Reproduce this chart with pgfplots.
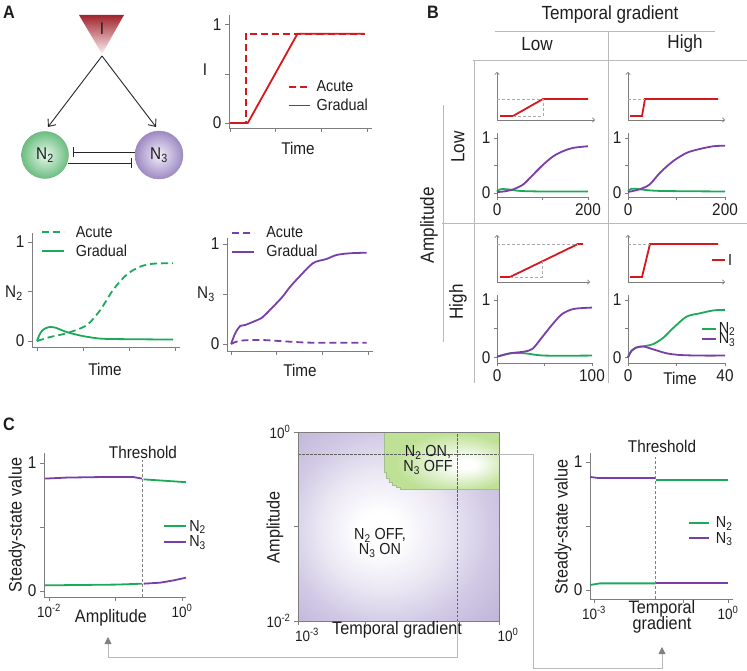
\documentclass[border=0pt]{standalone}
\usepackage{fontspec}
\setmainfont{Liberation Sans}[FakeStretch=0.9]
\usepackage{pgfplots}
\pgfplotsset{compat=1.18}
\usetikzlibrary{arrows.meta}

\definecolor{cred}{RGB}{214,24,30}
\definecolor{cgreen}{RGB}{28,170,88}
\definecolor{cpurple}{RGB}{122,62,168}
\definecolor{axgray}{RGB}{125,125,125}
\definecolor{linegray}{RGB}{185,185,185}
\definecolor{guidegray}{RGB}{170,170,170}
\definecolor{bgpurple}{RGB}{188,178,214}
\definecolor{midpurple}{RGB}{208,200,228}
\definecolor{bggreen}{RGB}{190,225,150}
\definecolor{edgegreen}{RGB}{165,190,145}
\definecolor{txt}{RGB}{30,30,30}

\newcommand{\fs}[1]{\fontsize{#1}{#1}\selectfont}
\newcommand{\Nt}{N\textsubscript{2}}
\newcommand{\Nh}{N\textsubscript{3}}

% the path's bounding box maps onto the square -25bp..25bp of a shading
\pgfdeclareradialshading{purplebg}{\pgfpoint{-5.5bp}{-1.5bp}}%
  {color(0bp)=(white); color(5bp)=(white); color(16bp)=(white!55!midpurple); color(26bp)=(midpurple); color(38bp)=(bgpurple); color(50bp)=(bgpurple)}
\pgfdeclareradialshading{greenbg}{\pgfpoint{12bp}{-4bp}}%
  {color(0bp)=(white); color(4bp)=(white); color(14bp)=(white!55!bggreen); color(26bp)=(bggreen); color(50bp)=(bggreen)}

\pgfplotsset{
  base/.style={scale only axis, axis lines=left, clip=false,
    axis line style={-, draw=axgray, line width=0.8pt},
    tick style={draw=axgray, line width=0.8pt}, major tick length=4pt,
    tick align=outside,
    ticklabel style={font=\fs{17}, text=txt},
    every axis plot/.append style={line width=1.8pt}},
  lgd/.style={legend cell align=left,
    legend style={draw=none, fill=none, inner sep=0pt, anchor=north west,
      font=\fs{16}, text=txt, row sep=#1, nodes={inner sep=2pt}}},
  lgimg/.style={legend image code/.code={\draw[line width=1.8pt, ##1] (0pt,0pt) -- (#1,0pt);}},
  lgap/.style={legend style={/tikz/every odd column/.append style={column sep=#1}}},
  inp/.style={scale only axis, axis lines=left, clip=false,
    axis line style={-{To[length=3pt,width=5pt]}, draw=axgray, line width=0.6pt},
    xtick=\empty, ytick=\empty, xmin=0, ymin=0,
    every axis plot/.append style={line width=1.8pt}},
  guide/.style={forget plot, densely dashed, guidegray, line width=0.5pt},
  outp/.style={base, major tick length=3pt, ticklabel style={font=\fs{17}},
    ytick={0,0.5,1}, yticklabels={0,,1},
    every axis plot/.append style={line width=1.8pt, smooth}},
}

\begin{document}
\begin{tikzpicture}
\path[use as bounding box] (0,0) rectangle (747pt,670pt);

% ---------------- Panel A: input I
\begin{axis}[base, at={(229pt,542pt)}, anchor=south west, width=143pt, height=113pt,
  xmin=-0.02, xmax=3.11, ymin=-0.05, ymax=1.10,
  xtick={0,1,2,3}, xticklabels={,,,}, ytick={0,0.5,1}, yticklabels={0,,1},
  lgd=2pt, lgimg=21pt, lgap=4pt, legend style={at={(0.41,0.44)}}]
\addplot[cred, dash pattern=on 7pt off 4pt] coordinates {(0,0) (0.35,0) (0.35,0.91) (2.95,0.91)};
\addplot[cred] coordinates {(0,0) (0.39,0) (1.48,0.91) (2.95,0.91)};
\legend{Acute, Gradual}
\end{axis}

% ---------------- Panel A: N2
\begin{axis}[base, at={(32pt,323pt)}, anchor=south west, width=148pt, height=114pt,
  xmin=-0.11, xmax=3.11, ymin=-0.06, ymax=1.09,
  xtick={0,1,2,3}, xticklabels={,,,}, ytick={0,0.5,1}, yticklabels={0,,1},
  lgd=2pt, lgimg=22pt, lgap=9pt, legend style={at={(0.06,1.08)}}]
\addplot[cgreen, smooth, dash pattern=on 7pt off 4pt] coordinates {(0,0) (0.28,0.04) (0.65,0.08) (1.08,0.16) (1.37,0.31) (1.66,0.52) (1.95,0.67) (2.24,0.75) (2.53,0.78) (2.96,0.785)};
\addplot[cgreen, smooth] coordinates {(0,0) (0.05,0.06) (0.12,0.11) (0.25,0.14) (0.4,0.135) (0.65,0.09) (1.0,0.05) (1.37,0.025) (1.73,0.02) (2.96,0.015)};
\legend{Acute, Gradual}
\end{axis}

% ---------------- Panel A: N3
\begin{axis}[base, at={(227pt,319pt)}, anchor=south west, width=146pt, height=113pt,
  xmin=-0.09, xmax=3.11, ymin=-0.07, ymax=1.06,
  xtick={0,1,2,3}, xticklabels={,,,}, ytick={0,0.5,1}, yticklabels={0,,1},
  lgd=2pt, lgimg=22pt, lgap=9pt, legend style={at={(0.03,1.12)}}]
\addplot[cpurple, smooth, dash pattern=on 7pt off 4pt] coordinates {(0,0) (0.2,0.033) (0.67,0.04) (1.29,0.023) (1.8,0.013) (2.97,0.013)};
\addplot[cpurple, smooth] coordinates {(0,0) (0.09,0.107) (0.2,0.18) (0.31,0.19) (0.67,0.26) (0.78,0.307) (1.0,0.41) (1.14,0.48) (1.29,0.57) (1.51,0.68) (1.80,0.81) (2.09,0.85) (2.31,0.89) (2.60,0.907) (2.97,0.913)};
\legend{Acute, Gradual}
\end{axis}

% ---------------- Panel B: inputs
\begin{axis}[inp, at={(497pt,550pt)}, anchor=south west, width=98pt, height=48pt, xmax=98, ymax=48]
\addplot[cred] coordinates {(3,4) (16,4) (46,21) (91,21)};
\addplot[guide] coordinates {(0,21) (46,21) (46,4) (16,4)};
\end{axis}
\begin{axis}[inp, at={(628pt,550pt)}, anchor=south west, width=97pt, height=48pt, xmax=97, ymax=48]
\addplot[cred] coordinates {(2,4) (14,4) (17,21) (90,21)};
\addplot[guide] coordinates {(0,21) (17,21)};
\end{axis}
\begin{axis}[inp, at={(497pt,388pt)}, anchor=south west, width=93pt, height=47pt, xmax=93, ymax=47]
\addplot[cred] coordinates {(3,5) (13,5) (81,38) (86,38)};
\addplot[guide] coordinates {(0,38) (81,38)};
\addplot[guide] coordinates {(13,5) (45,5) (45,20.5)};
\end{axis}
\begin{axis}[inp, at={(628pt,388pt)}, anchor=south west, width=97pt, height=47pt, xmax=97, ymax=47,
  lgd=0pt, lgimg=13pt, legend style={at={(0.856,0.64)}}]
\addplot[cred] coordinates {(2,5) (14,5) (22,38) (90,38)};
\addplot[guide] coordinates {(0,38) (22,38)};
\legend{I}
\end{axis}

% ---------------- Panel B: outputs
\begin{axis}[outp, at={(497pt,473pt)}, anchor=south west, width=91pt, height=64pt,
  xmin=0, xmax=200, ymin=-0.07, ymax=1.09, xtick={0,100,200}, xticklabels={0,,200}]
\addplot[cgreen] coordinates {(0,0.03) (7,0.07) (22,0.07) (51,0.04) (102,0.03) (200,0.03)};
\addplot[cpurple] coordinates {(0,0.02) (15,0.03) (36,0.07) (58,0.16) (80,0.34) (102,0.52) (124,0.67) (145,0.76) (167,0.82) (200,0.85)};
\end{axis}
\begin{axis}[outp, at={(628pt,473pt)}, anchor=south west, width=97pt, height=64pt,
  xmin=0, xmax=200, ymin=-0.07, ymax=1.09, xtick={0,100,200}, xticklabels={0,,200}]
\addplot[cgreen] coordinates {(0,0.03) (7,0.08) (24,0.07) (66,0.04) (200,0.03)};
\addplot[cpurple] coordinates {(0,0.02) (24,0.07) (45,0.16) (66,0.37) (93,0.58) (121,0.73) (148,0.80) (176,0.85) (200,0.86)};
\end{axis}
\begin{axis}[outp, at={(497pt,307pt)}, anchor=south west, width=95pt, height=68pt,
  xmin=0, xmax=100, ymin=-0.1, ymax=1.09, xtick={0,50,100}, xticklabels={0,,100}]
\addplot[cgreen] coordinates {(0,0.01) (14,0.07) (29,0.07) (50,0.03) (100,0.03)};
\addplot[cpurple] coordinates {(0,0.01) (14,0.07) (29,0.10) (37.5,0.15) (46,0.32) (57,0.55) (68,0.75) (79,0.84) (89,0.86) (100,0.87)};
\end{axis}
\begin{axis}[outp, at={(628pt,307pt)}, anchor=south west, width=97pt, height=68pt,
  xmin=0, xmax=40, ymin=-0.1, ymax=1.09, xtick={0,20,40}, xticklabels={0,,40},
  lgd=-6pt, lgimg=14pt, legend style={at={(0.75,0.63)}}]
\addplot[cgreen] coordinates {(0,0) (1.4,0.11) (3.4,0.17) (6.2,0.19) (10.3,0.23) (14.5,0.34) (18.6,0.51) (24.1,0.71) (29.7,0.77) (35.2,0.82) (40,0.83)};
\addplot[cpurple] coordinates {(0,0) (1.4,0.11) (3.4,0.17) (6.2,0.19) (10.3,0.14) (15.9,0.07) (21.4,0.04) (29.7,0.03) (40,0.03)};
\legend{\Nt, \Nh}
\end{axis}

% ---------------- Panel C: left
\begin{axis}[base, at={(44pt,73pt)}, anchor=south west, width=142pt, height=144pt,
  xmin=-2.075, xmax=0.06, ymin=-0.047, ymax=1.078,
  xtick={-2,-1,0}, xticklabels={10\textsuperscript{-2},,10\textsuperscript{0}},
  ytick={0,0.5,1}, yticklabels={0,,1}, xticklabel style={font=\fs{15}},
  lgd=-1pt, lgimg=22pt, legend style={at={(0.84,0.55)}}]
\addplot[cgreen] coordinates {(-2.06,0.044) (-0.98,0.05) (-0.60,0.057)};
\addplot[cpurple] coordinates {(-2.06,0.878) (-1.73,0.886) (-1.23,0.89) (-0.73,0.89) (-0.60,0.878)};
\addplot[cgreen, forget plot] coordinates {(-0.578,0.872) (-0.226,0.86) (0.06,0.85)};
\addplot[cpurple, forget plot] coordinates {(-0.578,0.057) (-0.327,0.065) (-0.126,0.083) (0.06,0.104)};
\addplot[forget plot, densely dashed, gray, line width=0.6pt] coordinates {(-0.59,-0.047) (-0.59,1.02)};
\legend{\Nt, \Nh}
\end{axis}

% ---------------- Panel C: phase diagram
\begin{axis}[base, axis lines=box, axis on top, at={(298pt,49pt)}, anchor=south west,
  width=201pt, height=189pt, xmin=-3, xmax=0, ymin=-2, ymax=0,
  xtick={-3,-2,-1,0}, xticklabels={10\textsuperscript{-3},,,10\textsuperscript{0}},
  ytick={-2,-1,0}, yticklabels={10\textsuperscript{-2},,10\textsuperscript{0}},
  xtick pos=left, ytick pos=left, ticklabel style={font=\fs{15}},
  xticklabel style={xshift=9pt}]
\addplot[draw=none, shade, shading=purplebg] coordinates {(-3,-2) (0,-2) (0,0) (-3,0)} -- cycle;
\addplot[draw=edgegreen, line width=0.6pt, shade, shading=greenbg] coordinates {(-1.716,0) (-1.716,-0.423) (-1.687,-0.423) (-1.687,-0.487) (-1.642,-0.487) (-1.642,-0.529) (-1.597,-0.529) (-1.597,-0.561) (-1.537,-0.561) (-1.537,-0.582) (-1.478,-0.582) (-1.478,-0.603) (0,-0.603) (0,0)} -- cycle;
\addplot[dash pattern=on 2.5pt off 1.5pt, gray!75!black, line width=0.8pt] coordinates {(-3,-0.233) (0,-0.233)};
\addplot[dash pattern=on 2.5pt off 1.5pt, gray!75!black, line width=0.8pt] coordinates {(-0.627,-2) (-0.627,0)};
\end{axis}

% ---------------- Panel C: right
\begin{axis}[base, at={(590pt,71pt)}, anchor=south west, width=143pt, height=146pt,
  xmin=-3.09, xmax=0.11, ymin=-0.07, ymax=1.07,
  xtick={-3,-2,-1,0}, xticklabels={10\textsuperscript{-3},,,10\textsuperscript{0}},
  ytick={0,0.5,1}, yticklabels={0,,1}, xticklabel style={font=\fs{15}},
  lgd=-1pt, lgimg=20pt, lgap=4pt, legend style={at={(0.685,0.58)}}]
\addplot[cgreen] coordinates {(-3.09,0.039) (-2.87,0.052) (-1.62,0.052)};
\addplot[cpurple] coordinates {(-3.09,0.883) (-2.91,0.875) (-1.62,0.875)};
\addplot[cgreen, forget plot] coordinates {(-1.62,0.857) (0,0.857)};
\addplot[cpurple, forget plot] coordinates {(-1.62,0.052) (0,0.052)};
\addplot[forget plot, densely dashed, gray, line width=0.6pt] coordinates {(-1.62,-0.07) (-1.62,1.04)};
\legend{\Nt, \Nh}
\end{axis}

% ---------------- diagram, labels, frames
\begin{scope}[x=1pt, y=1pt, every node/.style={text=txt, inner sep=0pt}]
\node[font=\fs{18}\bfseries] at (9,658) {A};
\node[font=\fs{18}\bfseries] at (433,658) {B};
\node[font=\fs{18}\bfseries] at (9,246) {C};

% network
\shade[top color={rgb,255:red,160;green,35;blue,45}, bottom color={rgb,255:red,252;green,240;blue,240}]
  (79,655) -- (124,655) -- (102,616) -- cycle;
\node[font=\fs{17}] at (102,641) {I};
\draw[-{Straight Barb[length=6pt,width=10pt]}, line width=0.9pt, black!85] (102,614) -- (48,543);
\draw[-{Straight Barb[length=6pt,width=10pt]}, line width=0.9pt, black!85] (102,614) -- (156,543);
\shade[draw={rgb,255:red,120;green,175;blue,135}, inner color={rgb,255:red,232;green,247;blue,236}, outer color={rgb,255:red,108;green,190;blue,128}] (45,515) circle[radius=23.5];
\shade[draw={rgb,255:red,150;green,135;blue,185}, inner color={rgb,255:red,242;green,238;blue,250}, outer color={rgb,255:red,158;green,138;blue,195}] (159,515) circle[radius=24];
\node[font=\fs{17}] at (45,515) {\Nt};
\node[font=\fs{17}] at (159,515) {\Nh};
\draw[-{Bar[width=10pt]}, line width=0.9pt, black!85] (135,518) -- (73,518);
\draw[-{Bar[width=10pt]}, line width=0.9pt, black!85] (68,507) -- (132,507);

% panel A labels
\node[font=\fs{17}] at (205,600) {I};
\node[font=\fs{17}] at (298,522) {Time};
\node[font=\fs{17}] at (14,377) {\Nt};
\node[font=\fs{17}] at (105,301) {Time};
\node[font=\fs{17}] at (206,376) {\Nh};
\node[font=\fs{17}] at (300,300) {Time};

% panel B frame
\draw[linegray, line width=0.8pt] (495,639) -- (715,639);
\draw[linegray, line width=0.8pt] (473,610) -- (747,610);
\draw[linegray, line width=0.8pt] (608,639) -- (608,287);
\draw[linegray, line width=0.8pt] (474,610) -- (474,287);
\draw[linegray, line width=0.8pt] (442,447) -- (747,447);
\draw[linegray, line width=0.8pt] (443,565) -- (443,328);
\node[font=\fs{19}] at (610,655) {Temporal gradient};
\node[font=\fs{19}] at (537,626) {Low};
\node[font=\fs{19}] at (685,626) {High};
\node[font=\fs{19}, rotate=90] at (458,523) {Low};
\node[font=\fs{19}, rotate=90] at (458,368) {High};
\node[font=\fs{19}, rotate=90] at (429,445) {Amplitude};
\node[font=\fs{17}] at (680,292) {Time};

% panel C labels
\node[font=\fs{17}] at (143,218) {Threshold};
\node[font=\fs{18}] at (111,52) {Amplitude};
\node[font=\fs{18}, rotate=90] at (17,145) {Steady-state value};
\node[font=\fs{18}, rotate=90] at (275,143) {Amplitude};
\node[font=\fs{18}] at (397,40) {Temporal gradient};
\node[font=\fs{16}, align=center] at (428,210) {\Nt{} ON,\\[-1pt]\Nh{} OFF};
\node[font=\fs{16}, align=center] at (380,127) {\Nt{} OFF,\\[-1pt]\Nh{} ON};
\node[font=\fs{17}] at (662,224) {Threshold};
\node[font=\fs{18}] at (662,61) {Temporal};
\node[font=\fs{18}] at (662,45) {gradient};
\node[font=\fs{18}, rotate=90] at (563,143) {Steady-state value};

% connectors
\draw[linegray, line width=0.8pt, -{Triangle[length=7pt,width=7pt,color=gray]}] (457,49) -- (457,13) -- (108,13) -- (108,33);
\draw[linegray, line width=0.8pt, -{Triangle[length=7pt,width=7pt,color=gray]}] (499,216) -- (533,216) -- (533,2) -- (662,2) -- (662,23);
\end{scope}
\end{tikzpicture}
\end{document}
